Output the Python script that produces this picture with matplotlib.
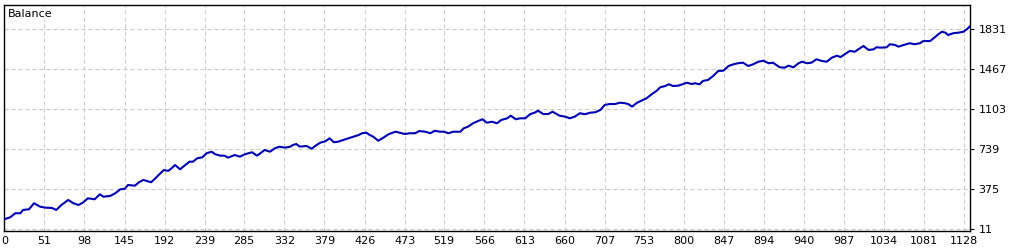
import matplotlib
matplotlib.use("Agg")
import matplotlib.pyplot as plt
from matplotlib.transforms import offset_copy

# balance curve (trade number, balance)
trades = [4, 11, 17, 23, 26, 33, 39, 46, 52, 60,
          65, 71, 79, 85, 91, 96, 102, 110, 116, 120,
          128, 134, 140, 145, 149, 157, 162, 167, 171, 176,
          181, 186, 191, 196, 200, 204, 210, 216, 221, 225,
          230, 236, 241, 247, 251, 257, 262, 266, 274, 280,
          286, 294, 300, 304, 309, 315, 321, 326, 333, 339,
          342, 346, 350, 358, 364, 368, 374, 380, 385, 390,
          395, 401, 407, 413, 419, 423, 428, 432, 436, 442,
          448, 454, 462, 467, 473, 479, 485, 490, 497, 503,
          508, 514, 519, 524, 530, 538, 542, 547, 553, 559,
          564, 569, 575, 581, 586, 593, 597, 603, 608, 614,
          620, 625, 629, 635, 641, 646, 651, 654, 661, 666,
          672, 678, 684, 690, 696, 702, 707, 713, 719, 725,
          731, 735, 739, 745, 750, 756, 762, 768, 772, 778,
          782, 787, 793, 799, 803, 809, 813, 818, 822, 828,
          834, 840, 846, 852, 858, 863, 869, 875, 881, 887,
          893, 899, 904, 908, 912, 918, 922, 928, 934, 938,
          944, 949, 955, 961, 967, 973, 979, 983, 988, 994,
          1000, 1004, 1010, 1016, 1022, 1025, 1031, 1037, 1041, 1047,
          1051, 1057, 1064, 1070, 1076, 1080, 1088, 1092, 1098, 1102,
          1106, 1109, 1115, 1121, 1127, 1131, 1135]
balance = [102, 120, 157, 157, 187, 193, 248, 217, 208, 205,
           187, 232, 278, 248, 232, 253, 293, 284, 330, 308,
           314, 339, 375, 378, 414, 408, 440, 460, 451, 439,
           475, 514, 551, 542, 566, 596, 557, 596, 626, 626,
           657, 666, 703, 717, 694, 681, 681, 663, 687, 672,
           694, 712, 681, 703, 733, 717, 748, 762, 754, 763,
           778, 787, 763, 769, 744, 769, 799, 812, 839, 803,
           808, 824, 839, 854, 869, 885, 890, 869, 854, 817,
           845, 876, 899, 890, 878, 885, 885, 905, 899, 885,
           908, 899, 899, 885, 899, 899, 930, 945, 976, 997,
           1012, 981, 990, 976, 1006, 1021, 1045, 1012, 1021, 1021,
           1060, 1072, 1090, 1060, 1060, 1081, 1058, 1045, 1036, 1021,
           1036, 1067, 1058, 1072, 1076, 1097, 1142, 1151, 1151, 1163,
           1158, 1149, 1127, 1163, 1181, 1203, 1240, 1272, 1303, 1315,
           1331, 1315, 1318, 1333, 1345, 1333, 1340, 1330, 1361, 1370,
           1406, 1452, 1454, 1497, 1513, 1522, 1527, 1497, 1513, 1536,
           1545, 1522, 1527, 1506, 1485, 1482, 1500, 1485, 1522, 1536,
           1522, 1527, 1558, 1543, 1536, 1573, 1591, 1578, 1604, 1634,
           1627, 1649, 1679, 1643, 1649, 1667, 1664, 1667, 1695, 1688,
           1673, 1688, 1704, 1695, 1704, 1724, 1724, 1749, 1788, 1809,
           1800, 1779, 1795, 1800, 1809, 1831, 1861]

x_ticks = [4.2, 51, 98, 145, 192, 239, 285, 332, 379, 426, 473, 519, 566,
           613, 660, 707, 753, 800, 847, 894, 940, 987, 1034, 1081, 1128]
x_labels = ["0", "51", "98", "145", "192", "239", "285", "332", "379", "426",
            "473", "519", "566", "613", "660", "707", "753", "800", "847",
            "894", "940", "987", "1034", "1081", "1128"]
y_ticks = [11, 375, 739, 1103, 1467, 1831]

assert len(trades) == len(balance)

fig = plt.figure(figsize=(10.25, 2.5), dpi=100)
ax = fig.add_axes([4 / 1025, 19.5 / 250, 966 / 1025, 225.5 / 250])

ax.plot(trades, balance, color="#0000b4", lw=1.5, zorder=3)

ax.set_xlim(3.8, 1134.7)
ax.set_ylim(0, 2052)

ax.set_xticks(x_ticks)
ax.set_xticklabels(x_labels)
ax.set_yticks(y_ticks)
ax.yaxis.tick_right()
ax.tick_params(axis="x", length=0, pad=4, labelsize=8, colors="black")
ax.tick_params(axis="y", length=3, width=0.8, pad=3, labelsize=8,
               direction="out", colors="black")

ax.grid(True, color="#c8c8c8", lw=0.72, linestyle=(0, (4, 3)))
for s in ax.spines.values():
    s.set_color("black")
    s.set_linewidth(1.0)

trans = offset_copy(ax.transAxes, fig=fig, x=4, y=-4, units="dots")
ax.text(0, 1, "Balance", transform=trans, ha="left", va="top", fontsize=8,
        bbox=dict(facecolor="white", edgecolor="none", pad=1))

fig.savefig("out.png", dpi=100, facecolor="white")
